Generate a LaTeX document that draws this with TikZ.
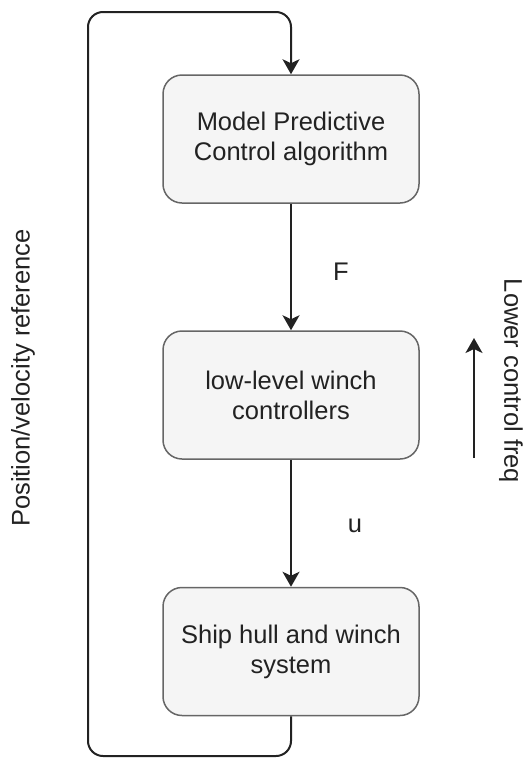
\documentclass[tikz,border=0pt]{standalone}
\usepackage{fontspec}
\setmainfont{Liberation Sans}
\usetikzlibrary{arrows.meta}
\definecolor{boxfill}{HTML}{F5F5F5}
\definecolor{boxline}{HTML}{666666}
\definecolor{txt}{HTML}{222222}
\definecolor{wire}{HTML}{222222}
\begin{document}
\begin{tikzpicture}[x=1pt,y=-1pt,
  blk/.style={draw=boxline, line width=1.5pt, fill=boxfill, rounded corners=19pt,
    minimum width=256pt, minimum height=128pt, align=center,
    font=\fontsize{25.5}{30}\selectfont, text=txt, inner sep=0pt},
  conn/.style={draw=wire, line width=2pt, -{Stealth[length=15pt,width=17pt,inset=4pt]}},
  lbl/.style={font=\fontsize{25.5}{30}\selectfont, text=txt, inner sep=0pt}]
\useasboundingbox (0,0) rectangle (527,758);
\node[blk] (mpc) at (291,139) {Model Predictive\\Control algorithm};
\node[blk] (llw) at (291,395) {low-level winch\\controllers};
\node[blk] (ship) at (291,651.5) {Ship hull and winch\\system};
\draw[conn] (mpc) -- (llw);
\draw[conn] (llw) -- (ship);
\node[lbl] (F) at (341,272) {F};
\node[lbl] (u) at (355,526) {u};
\coordinate (br) at (291,756);
\coordinate (bl) at (88,756);
\coordinate (tl) at (88,12);
\coordinate (tr) at (291,12);
\draw[conn, rounded corners=15pt] (ship.south) -- (br) -- (bl) -- (tl) -- (tr) -- (mpc.north);
\coordinate (fa) at (474,458);
\coordinate (fb) at (474,338);
\draw[conn] (fa) -- (fb);
\node[lbl, rotate=-90] (freq) at (511,381) {Lower control freq};
\node[lbl, rotate=90] (posref) at (23,378) {Position/velocity reference};
\end{tikzpicture}
\end{document}
